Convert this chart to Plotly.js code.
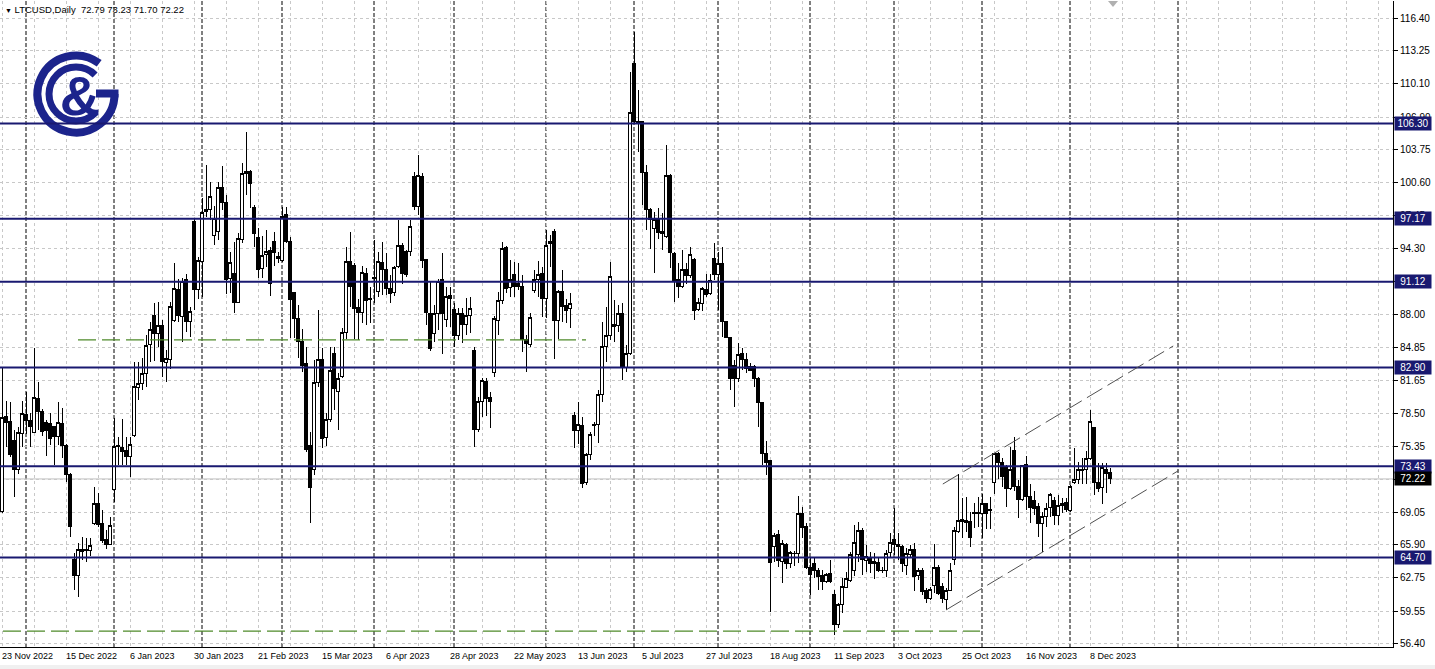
<!DOCTYPE html>
<html><head><meta charset="utf-8">
<script src="https://cdn.plot.ly/plotly-3.0.1.min.js"></script>
<style>html,body{margin:0;padding:0;background:#fff;overflow:hidden}#chart{width:1435px;height:669px}
#chart .gridlayer path, #chart .boxlayer path{shape-rendering:crispEdges}</style>
</head><body><div id="chart"></div>
<script>
// ---------- DATA ----------
const symbolTitle = "LTCUSD,Daily";
const lastOHLC = ["72.79", "73.23", "71.70", "72.22"];

const opens = [
69.08,78.25,77.7,75.86,73.14,76.6,78.44,77.8,76.65,79.95,78.73,77.6,77.55,77.23,76.27,77.49,75.47,72.6,64.45,63.0,
65.3,65.5,65.4,67.96,69.88,67.96,66.37,65.9,71.16,75.3,75.25,74.9,74.4,76.34,81.0,81.4,82.28,85.15,87.84,86.18,
86.97,83.36,83.68,87.45,90.4,87.77,91.35,87.29,96.88,90.33,93.04,97.84,98.06,95.6,95.92,100.17,98.7,91.45,91.93,89.12,
95.19,101.5,101.67,98.25,95.38,92.4,93.78,94.1,94.96,93.53,93.2,97.52,95.02,90.07,87.61,85.38,83.24,75.47,73.08,81.45,
83.62,76.21,77.93,84.26,80.58,82.02,86.24,93.04,92.72,88.67,88.16,91.93,89.5,91.5,90.17,92.95,92.31,90.49,90.07,92.56,
94.64,94.0,94.0,101.25,98.32,101.19,93.27,88.1,86.18,88.09,91.35,87.52,89.85,88.48,86.0,88.09,87.07,87.93,84.51,76.97,
79.63,81.54,80.04,82.4,87.45,89.3,94.42,90.59,91.77,90.97,90.7,85.6,85.15,90.27,91.35,91.93,89.53,94.76,95.92,87.45,
90.2,88.8,88.51,78.29,76.91,77.33,71.9,74.52,77.33,77.39,80.33,84.9,85.95,87.04,86.97,88.09,82.88,84.26,112.05,106.46,
106.46,101.61,98.09,96.24,97.13,95.98,95.44,101.29,93.84,91.38,90.65,92.34,91.7,93.3,88.48,89.05,90.39,89.95,93.36,91.77,
92.89,87.29,85.79,83.14,81.86,84.2,83.62,82.98,82.98,81.86,79.53,74.68,73.97,65.79,66.85,64.29,65.89,64.13,65.05,65.09,
68.86,67.64,63.75,64.13,63.43,62.92,62.37,63.11,61.1,58.22,60.2,61.83,62.53,63.49,64.93,67.32,64.39,64.71,64.13,64.2,
63.49,63.43,65.15,66.43,65.89,65.79,63.97,64.93,65.47,62.92,63.49,61.51,60.78,62.05,63.75,61.9,60.68,61.57,64.51,67.16,
68.12,68.22,68.12,68.9,68.9,68.86,69.88,69.3,71.86,74.61,73.78,73.4,71.32,74.99,71.54,70.26,73.65,70.58,70.2,69.56,
67.96,68.6,69.5,70.13,68.76,69.72,69.94,69.24,71.86,72.12,73.01,73.14,74.2,77.16,71.86,71.41,73.14,72.79];

const highs = [
82.82,79.69,79.6,76.9,77.23,79.69,80.6,78.5,84.74,81.54,78.9,77.9,78.5,77.3,79.6,78.99,75.6,72.76,65.09,66.05,
66.69,66.6,66.6,71.4,70.84,69.24,67.3,68.6,78.03,76.27,77.93,76.2,76.2,83.46,83.46,83.78,86.0,87.29,89.12,89.2,
87.45,84.58,89.2,92.95,91.35,91.45,91.86,88.73,97.2,93.52,99.13,102.31,100.71,98.38,100.71,102.21,99.43,94.0,94.96,95.76,
102.47,105.5,101.83,98.47,96.24,95.5,96.08,94.48,95.9,94.0,98.32,98.32,95.44,90.17,88.89,86.56,84.9,76.75,83.62,88.41,
84.74,78.57,84.9,84.9,82.34,86.65,94.48,95.92,92.89,89.43,92.63,92.41,90.65,95.1,94.0,94.96,93.84,91.77,92.63,97.04,
94.8,94.16,97.04,101.67,103.27,101.51,93.3,91.13,88.89,91.35,93.84,90.65,90.65,89.05,88.57,88.57,89.53,89.63,84.9,80.11,
81.86,81.86,80.58,87.84,90.17,94.96,94.54,93.2,93.04,92.89,91.77,86.0,88.09,92.25,93.14,92.57,96.08,95.6,96.14,90.33,
92.25,89.47,90.01,78.67,79.63,78.19,74.68,76.75,77.7,80.75,87.29,88.73,93.05,89.37,88.89,89.05,85.06,111.26,115.09,109.5,
106.53,102.31,98.16,97.84,98.22,97.68,104.23,101.42,94.0,92.89,94.16,92.9,94.48,93.36,89.53,90.65,91.86,91.86,94.86,94.0,
94.42,87.29,85.86,83.62,85.22,84.74,84.26,83.36,83.14,82.02,79.63,75.89,74.04,67.07,67.33,66.37,66.11,65.35,65.35,70.58,
69.5,67.96,64.77,64.61,63.65,63.49,63.24,64.45,61.57,60.36,62.69,63.33,65.25,67.8,68.12,67.48,65.89,65.25,65.09,64.77,
63.81,65.41,67.0,69.4,67.0,65.89,65.57,65.89,66.05,63.65,63.65,61.73,61.83,65.98,63.97,62.21,61.73,64.2,67.64,72.69,
70.36,70.52,69.08,69.88,70.52,70.77,69.94,70.52,74.74,74.83,74.2,73.56,75.25,76.21,72.12,73.56,74.42,71.73,71.1,69.94,
69.08,69.88,70.84,70.52,70.68,70.36,70.36,71.64,75.15,73.88,74.2,74.93,78.83,77.23,73.72,73.78,73.72,73.23];

const lows = [
69.0,75.31,74.3,70.5,72.66,75.3,76.5,75.3,76.6,76.9,76.3,74.4,75.5,73.55,75.5,74.2,71.96,66.69,61.57,60.94,
64.45,64.3,64.8,67.8,67.65,66.05,65.47,65.9,70.04,73.55,73.55,73.55,72.44,76.27,79.8,80.7,81.07,83.46,83.56,84.9,
81.96,81.54,82.8,87.29,87.29,85.38,86.33,85.86,88.41,89.43,89.69,97.36,97.04,94.64,95.12,97.99,89.95,90.0,88.16,89.05,
94.8,99.43,98.16,94.42,91.45,91.45,92.57,89.75,92.6,92.89,93.04,94.8,85.7,85.7,83.78,82.5,74.83,68.03,72.6,81.06,
75.15,75.38,77.71,78.83,76.91,81.86,85.6,88.73,85.6,85.54,87.2,86.97,87.2,89.1,89.69,89.85,89.85,89.05,89.75,92.41,
90.91,91.61,93.59,97.99,97.52,92.41,86.97,84.51,85.38,86.5,84.2,86.8,86.8,84.9,85.54,85.28,86.0,86.18,75.31,76.75,
78.18,78.25,77.07,82.02,86.0,88.99,90.07,89.69,89.69,90.33,84.42,82.5,84.9,90.07,89.69,87.77,87.61,92.57,83.68,85.6,
87.29,87.13,86.72,75.22,75.54,71.32,71.64,74.04,76.3,75.64,79.63,83.46,85.54,85.38,86.33,81.7,82.44,84.1,106.3,103.59,
98.48,96.08,94.26,91.93,95.22,94.16,95.35,92.41,89.15,89.53,90.49,90.9,91.45,87.45,88.32,88.32,89.69,89.85,91.29,88.41,
85.79,85.7,80.75,79.15,81.54,82.66,82.4,82.6,81.0,77.23,73.56,72.6,59.5,64.29,63.75,62.21,63.56,63.65,63.88,64.13,
66.53,63.56,61.1,62.69,61.57,61.57,62.28,62.21,57.26,57.9,59.41,61.73,62.37,62.92,64.29,63.01,63.33,63.24,62.6,63.33,
63.24,62.85,64.77,64.93,64.45,63.33,63.01,64.61,61.51,62.53,61.09,60.3,60.62,61.25,61.09,60.3,59.66,61.51,63.97,67.0,
66.53,67.16,65.73,67.48,67.64,66.53,67.39,67.39,70.77,72.18,71.4,69.5,71.16,71.1,68.44,70.13,69.24,67.96,68.76,66.69,
65.25,67.64,68.6,67.8,67.8,68.99,69.08,69.08,71.73,71.73,71.73,71.73,74.04,70.68,70.99,69.85,70.84,71.70];

const closes = [
78.12,77.61,74.6,73.14,76.69,78.51,77.8,77.23,80.04,78.67,76.75,76.85,76.1,76.3,77.6,75.47,72.6,67.65,63.0,65.41,
65.5,65.4,65.8,69.88,67.9,66.3,65.9,67.8,75.31,75.4,74.83,74.4,75.5,81.06,81.4,82.28,85.02,86.56,86.18,86.97,
83.46,83.78,88.79,90.49,87.93,91.13,87.29,88.25,90.33,93.14,97.74,98.06,99.27,97.2,100.17,98.7,91.29,92.95,89.12,95.28,
101.51,101.67,100.55,95.76,92.31,93.68,94.0,90.97,93.9,93.37,97.36,94.96,89.43,87.61,85.38,83.14,75.06,71.4,81.45,83.62,
76.11,77.87,82.66,80.9,81.86,86.24,93.04,90.65,88.57,88.16,91.99,89.37,89.4,91.45,93.04,92.25,90.49,89.95,92.5,94.64,
91.93,91.86,96.46,98.32,101.35,93.14,88.16,84.74,88.03,91.13,88.03,89.69,89.53,86.0,88.03,87.07,87.93,88.57,76.97,79.63,
81.7,79.95,79.63,87.61,89.3,94.32,90.49,91.35,90.7,90.7,85.54,85.22,87.7,91.35,91.86,89.53,94.64,94.96,87.45,90.17,
88.75,88.32,89.05,76.91,77.39,71.8,74.58,76.5,77.39,80.33,84.9,85.95,91.61,86.82,88.09,82.88,84.26,107.36,106.46,106.27,
101.61,98.09,97.13,97.13,95.86,95.76,101.29,93.91,91.19,90.65,92.34,91.7,93.75,88.41,89.15,90.43,89.91,91.22,91.86,92.89,
87.29,85.79,81.86,81.86,84.1,83.62,82.82,82.66,81.86,79.53,74.68,73.78,64.2,66.84,64.39,66.05,64.13,65.15,65.1,68.86,
67.58,63.75,63.02,63.49,62.85,62.37,63.02,62.37,58.22,60.23,61.95,62.69,64.93,66.11,67.32,64.45,64.77,64.13,64.29,63.49,
63.43,65.09,66.11,65.98,65.79,64.07,65.09,65.41,62.85,63.43,61.41,60.78,61.64,63.75,61.25,60.78,61.57,63.43,67.26,68.22,
68.35,68.03,66.62,68.99,69.0,69.88,68.92,69.18,74.61,73.78,72.5,71.32,73.14,71.54,70.26,73.46,70.58,69.5,69.4,67.96,
68.6,69.4,70.68,68.76,69.72,69.88,69.3,71.54,72.18,73.14,73.14,74.2,77.71,71.86,71.32,73.33,72.76,72.22];

// date labels, one every 16 bars
const dateLabels = ["23 Nov 2022","15 Dec 2022","6 Jan 2023","30 Jan 2023","21 Feb 2023","15 Mar 2023",
  "6 Apr 2023","28 Apr 2023","22 May 2023","13 Jun 2023","5 Jul 2023","27 Jul 2023","18 Aug 2023",
  "11 Sep 2023","3 Oct 2023","25 Oct 2023","16 Nov 2023","8 Dec 2023"];
const barsPerLabel = 16;
// bar numbers of month starts (period separators)
const monthStartBars = [6, 28, 50, 70, 93, 113, 136, 158, 179, 202, 223, 245, 267, 294];

// price scale labels
const priceTicks = [56.40,59.55,62.75,65.90,69.05,72.20,75.35,78.50,81.65,84.85,88.00,91.15,94.30,97.45,100.60,103.75,106.90,110.10,113.25,116.40];

// horizontal levels
const levelPrices = [106.30, 97.17, 91.12, 82.90, 73.43, 64.70];
const bidPrice = 72.22;
// green dashed support lines
const greenPrices = [85.54, 57.64];
const greenFromBar = [19, 0.25];
const greenToBar = [146, 244.5];
// rising channel
const channelUpperBars = [235.2, 292.8];
const channelUpperPrices = [71.73, 84.96];
const channelLowerBars = [236, 294.1];
const channelLowerPrices = [59.66, 73.01];

// ---------- LAYOUT ----------
const W = 1435, H = 669, ML = 0, MR = 42, MT = 1, MB = 22;
const PW = W - ML - MR, PH = H - MT - MB;
const px = x => (x - ML) / PW;
const py = y => 1 - (y - MT) / PH;
const NAVY = '#191970';
const GRID = '#c8c8c8';
const FONT = 'Liberation Sans, Arial, sans-serif';

const barIdx = opens.map((_, i) => i);

const gridVals = [];
for (let b = 0; b <= 344; b += 8) gridVals.push(b);

const trace = {
  type: 'candlestick',
  x: barIdx, open: opens, high: highs, low: lows, close: closes,
  increasing: {line: {color: '#000', width: 1}, fillcolor: '#ffffff'},
  decreasing: {line: {color: '#000', width: 1}, fillcolor: '#000000'},
  whiskerwidth: 0,
  hoverinfo: 'none',
  showlegend: false
};

const shapes = [];
monthStartBars.forEach(b => shapes.push({type: 'line', xref: 'x', yref: 'paper', x0: b, x1: b, y0: 0, y1: 1,
  line: {color: '#000', width: 1, dash: '4px,2px'}, layer: 'below'}));
shapes.push({type: 'line', xref: 'paper', yref: 'y', x0: 0, x1: 1, y0: bidPrice, y1: bidPrice,
  line: {color: '#c0c0c0', width: 1}, layer: 'below'});
levelPrices.forEach(p => shapes.push({type: 'line', xref: 'paper', yref: 'y', x0: 0, x1: 1, y0: p, y1: p,
  line: {color: NAVY, width: 2}, layer: 'above'}));
greenPrices.forEach((p, i) => shapes.push({type: 'line', xref: 'x', yref: 'y', x0: greenFromBar[i], x1: greenToBar[i], y0: p, y1: p,
  line: {color: '#4f8a2a', width: 1.2, dash: '18px,6px'}, layer: 'above'}));
shapes.push({type: 'line', xref: 'x', yref: 'y', x0: channelUpperBars[0], x1: channelUpperBars[1], y0: channelUpperPrices[0], y1: channelUpperPrices[1],
  line: {color: '#505050', width: 1, dash: '18px,6px'}, layer: 'above'});
shapes.push({type: 'line', xref: 'x', yref: 'y', x0: channelLowerBars[0], x1: channelLowerBars[1], y0: channelLowerPrices[0], y1: channelLowerPrices[1],
  line: {color: '#505050', width: 1, dash: '18px,6px'}, layer: 'above'});
shapes.push({type: 'path', xref: 'paper', yref: 'paper',
  path: `M ${px(1108)} ${py(1)} L ${px(1118)} ${py(1)} L ${px(1113)} ${py(7)} Z`,
  fillcolor: '#b0b0b0', line: {width: 0}, layer: 'above'});
shapes.push({type: 'rect', xref: 'paper', yref: 'paper', x0: px(0), x1: px(1435), y0: py(665), y1: py(669),
  fillcolor: '#f0f0f0', line: {width: 0}});

const annotations = [];
annotations.push({xref: 'paper', yref: 'paper', x: px(3), y: py(9), xanchor: 'left', yanchor: 'middle', showarrow: false,
  text: '<span style="font-size:7px">\u25BC</span> ' + symbolTitle + '\u00a0\u00a0' + lastOHLC.join(' '),
  font: {family: FONT, size: 9.5, color: '#000'}});
dateLabels.forEach((t, i) => annotations.push({xref: 'x', yref: 'paper', x: i * barsPerLabel, y: 0, xanchor: 'left', yanchor: 'top',
  xshift: -2, yshift: -2, showarrow: false, text: t, font: {family: FONT, size: 9, color: '#000'}}));
levelPrices.forEach(p => annotations.push({xref: 'paper', yref: 'y', x: 1, y: p, xanchor: 'left', yanchor: 'middle', xshift: 1,
  showarrow: false, text: p.toFixed(2), bgcolor: NAVY, borderpad: 1, width: 34, align: 'center',
  font: {family: FONT, size: 10, color: '#fff'}}));
annotations.push({xref: 'paper', yref: 'y', x: 1, y: bidPrice, xanchor: 'left', yanchor: 'middle', xshift: 1,
  showarrow: false, text: bidPrice.toFixed(2), bgcolor: '#000', borderpad: 1, width: 34, align: 'center',
  font: {family: FONT, size: 10, color: '#fff'}});

const LOGO = '#1c248c';
const logoSvg = `<svg xmlns="http://www.w3.org/2000/svg" width="100" height="100" viewBox="0 0 100 100">
<path d="M73.2 19.3 A38.5 38.5 0 1 0 88.5 50" fill="none" stroke="${LOGO}" stroke-width="8"/>
<rect x="70" y="45.5" width="22.5" height="8" fill="${LOGO}"/>
<path d="M69.1 30.9 A27 27 0 1 0 69.1 69.1" fill="none" stroke="${LOGO}" stroke-width="7"/>
<text x="54" y="71" font-family="Liberation Sans, Arial, sans-serif" font-weight="bold" font-size="56" text-anchor="middle" fill="${LOGO}">&amp;</text>
</svg>`;

const layout = {
  width: W, height: H,
  margin: {l: ML, r: MR, t: MT, b: MB, pad: 0},
  paper_bgcolor: '#fff', plot_bgcolor: '#fff',
  showlegend: false,
  boxgap: 0.25,
  xaxis: {
    type: 'linear', range: [-0.5, 347.75], fixedrange: true,
    rangeslider: {visible: false},
    tickvals: gridVals, showticklabels: false, ticks: '',
    showgrid: true, gridcolor: GRID, griddash: '3px,3px', gridwidth: 1,
    showline: true, linecolor: '#000', linewidth: 1, zeroline: false
  },
  yaxis: {
    side: 'right', range: [56.11, 118.03], fixedrange: true,
    tickvals: priceTicks, ticktext: priceTicks.map(v => v.toFixed(2)),
    ticks: 'outside', ticklen: 4, tickcolor: '#000',
    tickfont: {family: FONT, size: 10, color: '#000'},
    showgrid: true, gridcolor: GRID, griddash: '3px,3px', gridwidth: 1,
    showline: true, linecolor: '#000', linewidth: 1, zeroline: false
  },
  shapes: shapes,
  annotations: annotations,
  images: [{
    source: 'data:image/svg+xml;charset=utf-8,' + encodeURIComponent(logoSvg),
    xref: 'paper', yref: 'paper', x: px(26), y: py(44), sizex: 100 / PW, sizey: 100 / PH,
    xanchor: 'left', yanchor: 'top', sizing: 'stretch', layer: 'above'
  }]
};

Plotly.newPlot('chart', [trace], layout, {staticPlot: true, displayModeBar: false});
</script>
</body></html>
